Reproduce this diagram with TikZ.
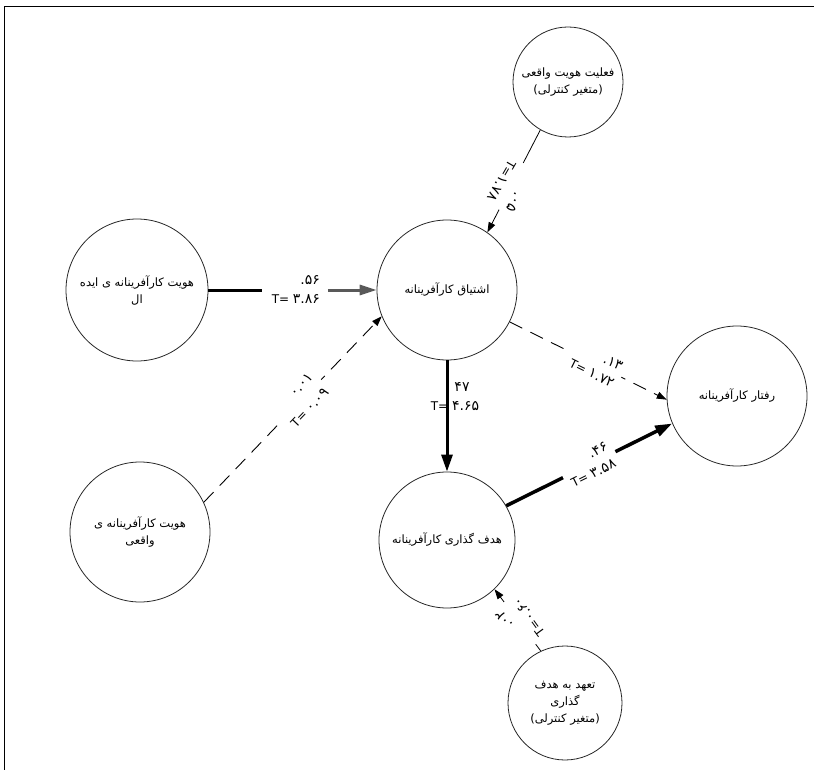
\documentclass[tikz,border=0pt]{standalone}
\usepackage{fontspec}
\setmainfont{DejaVu Sans}
\newfontfamily\fa[Script=Arabic]{DejaVu Sans}
\TeXXeTstate=1
\usetikzlibrary{arrows.meta,calc}
\newcommand\RTLtxt[1]{\beginR #1\endR}
\newcommand\lpar{{\rmfamily(}}
\newcommand\rpar{{\rmfamily)}}
\newcommand\dg[1]{{\fontsize{14}{19}\selectfont #1}}
\begin{document}
\begin{tikzpicture}[x=1pt,y=-1pt,
  circ/.style={circle,draw=black!85,line width=0.8pt,inner sep=0pt,align=center,font=\fa\fontsize{11.5}{17}\selectfont},
  lbl/.style={font=\fontsize{12}{19}\selectfont,align=right,inner sep=1pt},
  widelbl/.style={font=\fontsize{12}{22}\selectfont},
  gapl/.style={lbl,fill=white,inner xsep=4pt},
  dline/.style={line width=0.9pt,dash pattern=on 14pt off 9pt},
  sline/.style={line width=0.8pt},
  smalltip/.style={-{Triangle[length=10pt,width=7pt]}},
  bigtip/.style={-{Triangle[length=17pt,width=11pt]}}]
\useasboundingbox (0,0) rectangle (814,770);
\draw[line width=0.8pt] (4,770) -- (4,6) -- (814,6);

\node[circ,minimum size=142pt] (ideal) at (137,290) {\RTLtxt{هویت کارآفرینانه ی ایده}\\\RTLtxt{ال}};
\node[circ,minimum size=140pt] (real) at (140,532) {\RTLtxt{هویت کارآفرینانه ی}\\\RTLtxt{واقعی}};
\node[circ,minimum size=140pt] (cent) at (447,290) {\RTLtxt{اشتیاق کارآفرینانه}};
\node[circ,minimum size=110pt] (ctrlA) at (568,82) {\RTLtxt{فعلیت هویت واقعی}\\\lpar\RTLtxt{متغیر کنترلی}\rpar};
\node[circ,minimum size=136pt] (goal) at (447,540) {\RTLtxt{هدف گذاری کارآفرینانه}};
\node[circ,minimum size=140pt] (beh) at (737,396) {\RTLtxt{رفتار کارآفرینانه}};
\node[circ,minimum size=114pt] (ctrlB) at (565,703) {\RTLtxt{تعهد به هدف}\\\RTLtxt{گذاری}\\\lpar\RTLtxt{متغیر کنترلی}\rpar};

% ideal -> center
\coordinate (i1) at ($(ideal.east)!0.32!(cent.west)$);
\coordinate (i2) at ($(ideal.east)!0.71!(cent.west)$);
\draw[line width=3pt] (ideal.east) -- (i1);
\draw[line width=3pt,draw=black!65,-{Triangle[length=17pt,width=10pt,fill=black!65]}] (i2) -- (cent.west);
\node[lbl] (l1) at ($(ideal.east)!0.52!(cent.west)$) {\dg{.۵۶}\\T= \dg{۳.۸۶}};

% center -> goal
\draw[line width=3pt,bigtip] (cent.south) -- (goal.north);
\node[lbl,align=center] (l2) at (455,397) {\hspace*{14pt}\dg{۴۷}\\T= \dg{۴.۶۵}};

% goal -> behaviour
\draw[line width=3.5pt,bigtip] (goal.30) -- node[gapl,sloped,inner xsep=5pt] (l3) {\dg{.۴۶}\\T= \dg{۳.۵۸}} (beh.203);

% center -> behaviour
\draw[dline,smalltip] (cent.333) -- node[gapl,sloped,pos=0.55] (l4) {\dg{.۱۳}\\T= \dg{۱.۷۲}} (beh.183);

% real -> center
\draw[dline,smalltip] (real.25) -- node[gapl,widelbl,sloped,pos=0.55] (l5) {\dg{۰.۰۱}\\T= \dg{۰.۰۹}} (cent.202);

% control A -> center
\draw[sline,smalltip] (ctrlA.240) -- node[gapl,widelbl,rotate=240,pos=0.55] (l6) {\dg{.۰۵}\\T=\dg{۱.۷۸}} (cent.55);

% control B -> goal
\draw[sline,smalltip] (ctrlB.115) -- node[gapl,widelbl,rotate=126,pos=0.45] (l7) {\dg{.۰۲}\\T=\dg{۰.۶۰}} (goal.-46);
\end{tikzpicture}
\end{document}
